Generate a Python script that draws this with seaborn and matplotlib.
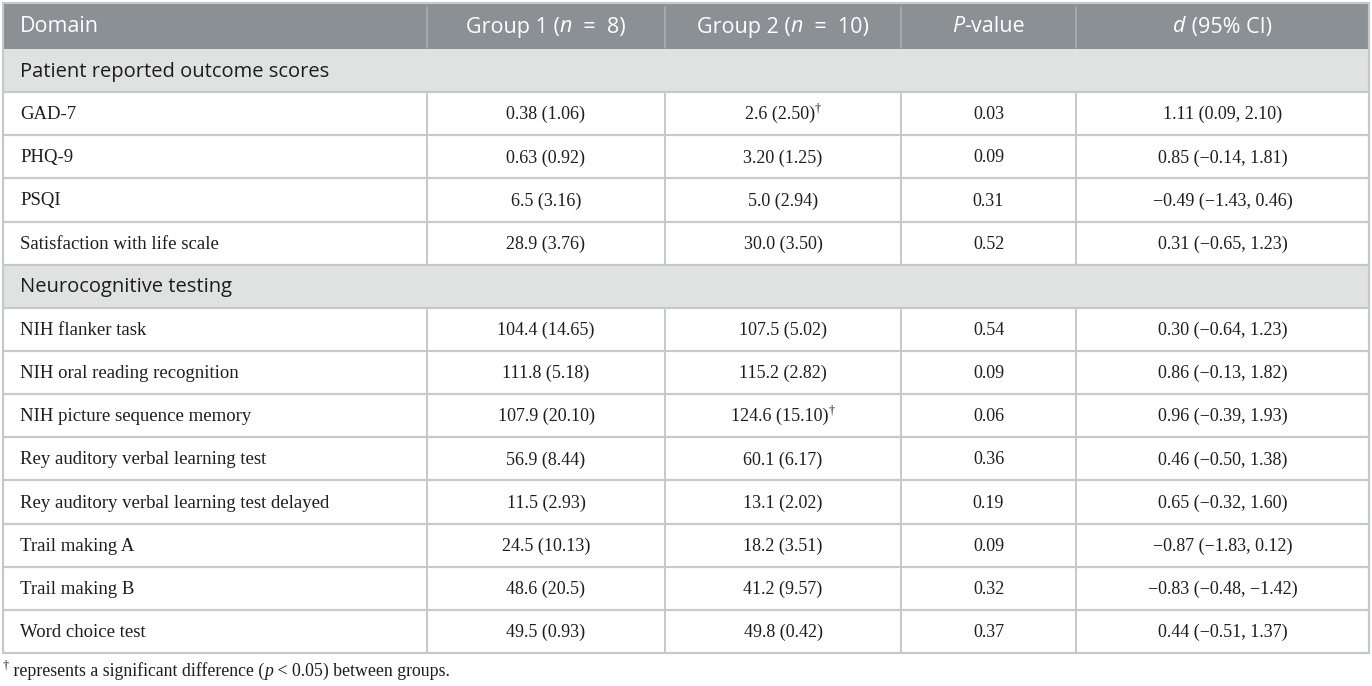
import matplotlib
matplotlib.use("Agg")
import matplotlib.pyplot as plt
import seaborn as sns
from matplotlib.patches import Rectangle

# ---------------------------------------------------------
# DATA
# ---------------------------------------------------------
header_cols = ["Domain", "Group 1", "Group 2", "P-value", "d (95% CI)"]
group_sizes = [8, 10]

sections = ["Patient reported outcome scores", "Neurocognitive testing"]
section_counts = [4, 8]

domains = [
    "GAD-7", "PHQ-9", "PSQI", "Satisfaction with life scale",
    "NIH flanker task", "NIH oral reading recognition", "NIH picture sequence memory",
    "Rey auditory verbal learning test", "Rey auditory verbal learning test delayed",
    "Trail making A", "Trail making B", "Word choice test",
]
group1 = ["0.38 (1.06)", "0.63 (0.92)", "6.5 (3.16)", "28.9 (3.76)",
          "104.4 (14.65)", "111.8 (5.18)", "107.9 (20.10)", "56.9 (8.44)",
          "11.5 (2.93)", "24.5 (10.13)", "48.6 (20.5)", "49.5 (0.93)"]
group2 = ["2.6 (2.50)", "3.20 (1.25)", "5.0 (2.94)", "30.0 (3.50)",
          "107.5 (5.02)", "115.2 (2.82)", "124.6 (15.10)", "60.1 (6.17)",
          "13.1 (2.02)", "18.2 (3.51)", "41.2 (9.57)", "49.8 (0.42)"]
group2_sig = [True, False, False, False, False, False, True, False,
              False, False, False, False]
p_values = ["0.03", "0.09", "0.31", "0.52", "0.54", "0.09", "0.06", "0.36",
            "0.19", "0.09", "0.32", "0.37"]
d_ci = ["1.11 (0.09, 2.10)", "0.85 (\u22120.14, 1.81)", "\u22120.49 (\u22121.43, 0.46)",
        "0.31 (\u22120.65, 1.23)", "0.30 (\u22120.64, 1.23)", "0.86 (\u22120.13, 1.82)",
        "0.96 (\u22120.39, 1.93)", "0.46 (\u22120.50, 1.38)", "0.65 (\u22120.32, 1.60)",
        "\u22120.87 (\u22121.83, 0.12)", "\u22120.83 (\u22120.48, \u22121.42)",
        "0.44 (\u22120.51, 1.37)"]
footnote = "represents a significant difference (p < 0.05) between groups."

# ---------------------------------------------------------
# STYLE
# ---------------------------------------------------------
sns.set_theme(style="white")
plt.rcParams["font.family"] = ["Open Sans", "DejaVu Sans"]

HEAD_BG = "#8a9093"
HEAD_SEP = "#a9aeb0"
SECT_BG = "#e0e2e1"
GRID = "#c6c9c8"
INK = "#1f1c1d"
SANS = ["Open Sans", "DejaVu Sans"]
SERIF = ["Liberation Serif", "DejaVu Serif"]

W, H = 1372, 686
fig = plt.figure(figsize=(W / 100, H / 100), dpi=100)
ax = fig.add_axes([0, 0, 1, 1])
ax.set_xlim(0, W)
ax.set_ylim(H, 0)
ax.axis("off")
renderer = fig.canvas.get_renderer()

col_edges = [3, 427, 665, 901, 1076, 1369]
top, head_bot, bottom = 3, 49, 653
n_rows = len(sections) + len(domains)
row_h = (bottom - head_bot) / n_rows


def put(x, y, runs, ha="left"):
    # runs: (text, size, family, style, color, dy)
    texts = []
    for s, size, fam, style, color, dy in runs:
        t = ax.text(0, y + dy, s, fontsize=size, family=fam, style=style,
                    color=color, va="center", ha="left")
        texts.append(t)
    widths = [t.get_window_extent(renderer).width for t in texts]
    start = x - sum(widths) / 2 if ha == "center" else x
    for t, w in zip(texts, widths):
        t.set_x(start)
        start += w


# ---------------------------------------------------------
# HEADER
# ---------------------------------------------------------
ax.add_patch(Rectangle((col_edges[0], top), col_edges[-1] - col_edges[0],
                       head_bot - top, facecolor=HEAD_BG, edgecolor="none"))
for xe in col_edges[1:-1]:
    ax.plot([xe, xe], [top + 4, head_bot - 1], color=HEAD_SEP, lw=1.2)
hy = (top + head_bot) / 2 + 1
hs = 15.5
put(20, hy, [(header_cols[0], hs, SANS, "normal", "white", 0)])
for i, gname in enumerate(header_cols[1:3]):
    cx = (col_edges[i + 1] + col_edges[i + 2]) / 2
    put(cx, hy, [(gname + " (", hs, SANS, "normal", "white", 0),
                 ("n", hs, SANS, "italic", "white", 0),
                 ("  =  " + str(group_sizes[i]) + ")", hs, SANS, "normal", "white", 0)],
        ha="center")
cx = (col_edges[3] + col_edges[4]) / 2
put(cx, hy, [("P", hs, SANS, "italic", "white", 0),
             ("-value", hs, SANS, "normal", "white", 0)], ha="center")
cx = (col_edges[4] + col_edges[5]) / 2
put(cx, hy, [("d", hs, SANS, "italic", "white", 0),
             (" (95% CI)", hs, SANS, "normal", "white", 0)], ha="center")

# ---------------------------------------------------------
# BODY
# ---------------------------------------------------------
ds = 13.5   # domain names
ns = 13     # numeric cells
row = 0
k = 0
for sec, cnt in zip(sections, section_counts):
    y0 = head_bot + row * row_h
    ax.add_patch(Rectangle((col_edges[0], y0), col_edges[-1] - col_edges[0], row_h,
                           facecolor=SECT_BG, edgecolor="none"))
    put(20, y0 + row_h / 2 + 1, [(sec, 14.5, SANS, "normal", INK, 0)])
    ax.plot([col_edges[0], col_edges[-1]], [y0 + row_h, y0 + row_h], color=GRID, lw=1.6)
    row += 1
    for _ in range(cnt):
        y0 = head_bot + row * row_h
        yc = y0 + row_h / 2 + 1
        for xe in col_edges[1:-1]:
            ax.plot([xe, xe], [y0, y0 + row_h], color=GRID, lw=1.4)
        put(20, yc, [(domains[k], ds, SERIF, "normal", INK, 0)])
        cells = [group1[k], group2[k], p_values[k], d_ci[k]]
        for j, txt in enumerate(cells):
            cx = (col_edges[j + 1] + col_edges[j + 2]) / 2
            runs = [(txt, ns, SERIF, "normal", INK, 0)]
            if j == 1 and group2_sig[k]:
                runs.append(("\u2020", 9, SERIF, "normal", INK, -6))
            put(cx, yc, runs, ha="center")
        ax.plot([col_edges[0], col_edges[-1]], [y0 + row_h, y0 + row_h], color=GRID, lw=1.6)
        row += 1
        k += 1

# outer border
ax.plot([col_edges[0], col_edges[-1]], [top, top], color=GRID, lw=1.6)
ax.plot([col_edges[0], col_edges[0]], [top, bottom], color=GRID, lw=1.6)
ax.plot([col_edges[-1], col_edges[-1]], [top, bottom], color=GRID, lw=1.6)

# ---------------------------------------------------------
# FOOTNOTE
# ---------------------------------------------------------
fy = 671
parts = footnote.split("(p")
fs = 12.8
put(3, fy, [("\u2020", 9, SERIF, "normal", INK, -5),
            (" " + parts[0] + "(", fs, SERIF, "normal", INK, 0),
            ("p", fs, SERIF, "italic", INK, 0),
            (parts[1], fs, SERIF, "normal", INK, 0)])

fig.savefig("out.png", dpi=100)
